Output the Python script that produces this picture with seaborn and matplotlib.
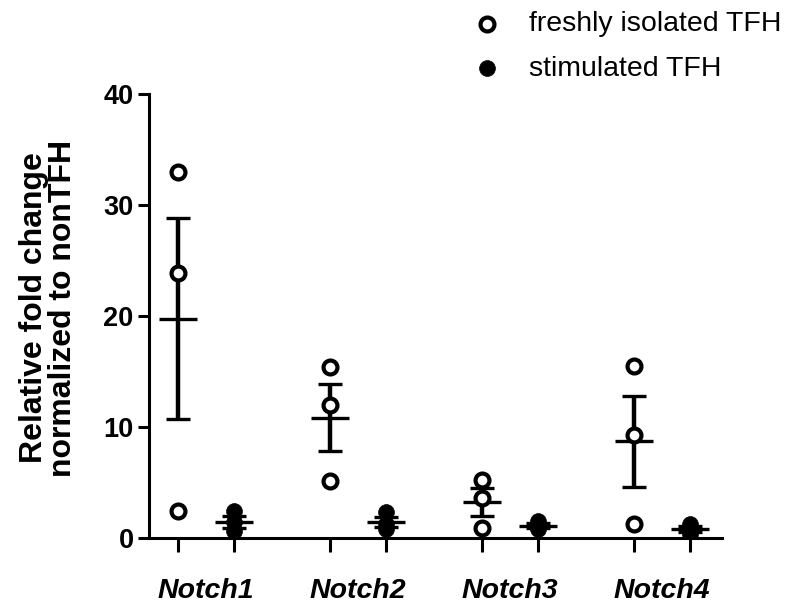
import numpy as np
import pandas as pd
import seaborn as sns
import matplotlib.pyplot as plt

# values (three donors per group)
genes = ["Notch1", "Notch2", "Notch3", "Notch4"]
fresh_tfh = [[33.0, 23.9, 2.4], [15.4, 12.0, 5.1], [5.2, 3.6, 0.9], [15.5, 9.3, 1.3]]
stim_tfh = [[2.4, 1.4, 0.6], [2.3, 1.3, 0.8], [1.5, 1.0, 0.8], [1.3, 0.7, 0.4]]
groups = ["freshly isolated TFH", "stimulated TFH"]
y_ticks = [0, 10, 20, 30, 40]

offset = 0.37  # stimulated column sits right of the fresh one

rows = []
for i, g in enumerate(genes):
    for v in fresh_tfh[i]:
        rows.append((g, groups[0], i, v))
    for v in stim_tfh[i]:
        rows.append((g, groups[1], i + offset, v))
df = pd.DataFrame(rows, columns=["gene", "group", "pos", "value"])

sns.set_theme(style="ticks")
plt.rcParams["font.family"] = ["Liberation Sans", "DejaVu Sans"]
plt.rcParams.update({"text.color": "black", "axes.labelcolor": "black",
                     "xtick.color": "black", "ytick.color": "black"})

fig = plt.figure(figsize=(7.91, 6.08), dpi=100)
ax = fig.add_axes([0.1884, 0.1151, 0.7244, 0.7303])

# mean +/- SEM
stats = df.groupby("pos")["value"].agg(["mean", "sem"])
ax.errorbar(stats.index, stats["mean"], yerr=stats["sem"], fmt="_", color="black",
            markersize=28, mew=2.4, elinewidth=3.2, capsize=8.3, capthick=2.8, zorder=2)

sns.scatterplot(data=df[df.group == groups[0]], x="pos", y="value", ax=ax,
                marker="o", s=100, color="white", edgecolor="black", linewidth=3,
                label=groups[0], zorder=3)
sns.scatterplot(data=df[df.group == groups[1]], x="pos", y="value", ax=ax,
                marker="o", s=130, color="black", edgecolor="black", linewidth=0.5,
                label=groups[1], zorder=3)

ax.set_xlim(-0.19, 3.58)
ax.set_ylim(0, 40)
ax.set_yticks(y_ticks)
ax.set_yticklabels([str(t) for t in y_ticks], fontweight="bold")

pos_all = sorted(df["pos"].unique())
ax.set_xticks(pos_all)
ax.set_xticklabels([])
mids = [i + offset / 2 for i in range(len(genes))]
ax.set_xticks(mids, minor=True)
ax.set_xticklabels(genes, minor=True, fontweight="bold", fontstyle="italic")

ax.tick_params(axis="y", labelsize=19.5, length=8, width=2.2, pad=3)
ax.tick_params(axis="x", which="major", length=10, width=2.2)
ax.tick_params(axis="x", which="minor", length=0, labelsize=20.5, pad=29)

for side in ["top", "right"]:
    ax.spines[side].set_visible(False)
for side in ["left", "bottom"]:
    ax.spines[side].set_linewidth(2.2)
    ax.spines[side].set_color("black")

ax.set_xlabel("")
ax.set_ylabel("Relative fold change\nnormalized to nonTFH", fontsize=23,
              fontweight="bold", linespacing=0.97)
ax.yaxis.set_label_coords(-0.124, 0.518)

ax.legend(loc="upper left", bbox_to_anchor=(473 / 791, 1 - 11 / 608),
          bbox_transform=fig.transFigure, frameon=False, fontsize=20.5,
          handlelength=1.0, handletextpad=0.95, labelspacing=0.65,
          borderaxespad=0, borderpad=0)

fig.savefig("out.png", dpi=100)
